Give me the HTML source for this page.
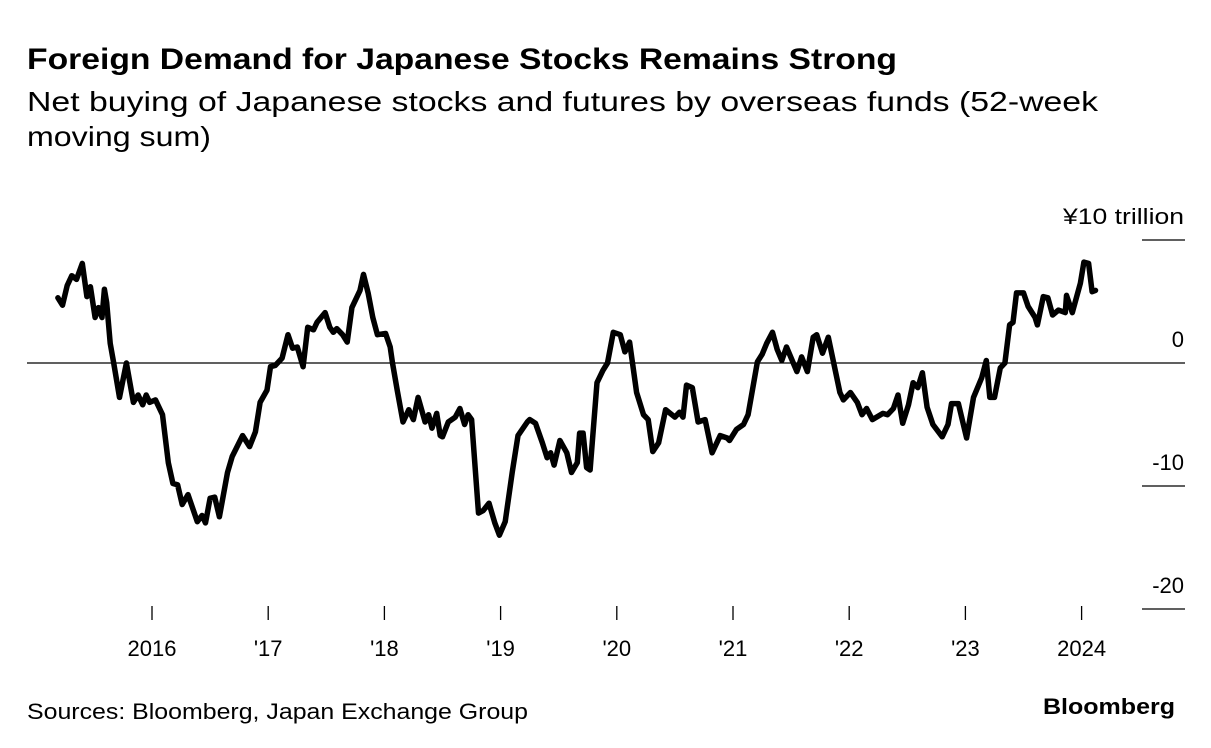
<!DOCTYPE html>
<html><head><meta charset="utf-8"><style>
body{margin:0;background:#fff;font-family:"Liberation Sans",sans-serif;}
svg{display:block}
</style></head><body>
<svg id="chart" width="1211" height="748">
<text x="27" y="69" font-size="30" font-weight="bold" fill="#000" textLength="870" lengthAdjust="spacingAndGlyphs">Foreign Demand for Japanese Stocks Remains Strong</text>
<text x="27" y="111" font-size="28" fill="#000" textLength="1071" lengthAdjust="spacingAndGlyphs">Net buying of Japanese stocks and futures by overseas funds (52-week</text>
<text x="27" y="146" font-size="28" fill="#000" textLength="184" lengthAdjust="spacingAndGlyphs">moving sum)</text>
<g id="axes"></g>
<path id="line" fill="none" stroke="#000" stroke-width="5.5" stroke-linejoin="round" stroke-linecap="round"></path>
<text x="27" y="719" font-size="22" fill="#000" textLength="501" lengthAdjust="spacingAndGlyphs">Sources: Bloomberg, Japan Exchange Group</text>
<text x="1175" y="714" font-size="22" font-weight="bold" text-anchor="end" fill="#000" textLength="132" lengthAdjust="spacingAndGlyphs">Bloomberg</text>
</svg>
<script>
const dates=[2015.19,2015.23,2015.27,2015.31,2015.35,2015.40,2015.44,2015.47,2015.51,2015.54,2015.57,2015.59,2015.61,2015.64,2015.67,2015.72,2015.78,2015.84,2015.88,2015.92,2015.95,2015.98,2016.03,2016.09,2016.14,2016.18,2016.22,2016.26,2016.31,2016.39,2016.43,2016.46,2016.50,2016.54,2016.58,2016.65,2016.69,2016.78,2016.84,2016.89,2016.93,2016.99,2017.02,2017.06,2017.12,2017.17,2017.21,2017.25,2017.30,2017.34,2017.39,2017.42,2017.49,2017.53,2017.56,2017.59,2017.64,2017.68,2017.72,2017.79,2017.82,2017.86,2017.90,2017.94,2018.01,2018.05,2018.07,2018.11,2018.16,2018.21,2018.25,2018.29,2018.35,2018.38,2018.41,2018.45,2018.48,2018.50,2018.55,2018.61,2018.65,2018.69,2018.72,2018.75,2018.81,2018.85,2018.90,2018.95,2018.99,2019.04,2019.10,2019.15,2019.23,2019.25,2019.30,2019.36,2019.40,2019.43,2019.46,2019.51,2019.57,2019.61,2019.66,2019.68,2019.71,2019.74,2019.77,2019.83,2019.88,2019.92,2019.97,2020.03,2020.07,2020.11,2020.17,2020.23,2020.27,2020.31,2020.36,2020.42,2020.50,2020.54,2020.57,2020.60,2020.65,2020.70,2020.76,2020.82,2020.89,2020.95,2020.97,2021.03,2021.09,2021.13,2021.21,2021.25,2021.29,2021.34,2021.38,2021.42,2021.46,2021.55,2021.59,2021.64,2021.69,2021.72,2021.77,2021.82,2021.92,2021.95,2022.01,2022.07,2022.11,2022.15,2022.20,2022.29,2022.33,2022.38,2022.42,2022.46,2022.51,2022.55,2022.59,2022.63,2022.67,2022.72,2022.80,2022.85,2022.88,2022.94,2023.01,2023.07,2023.14,2023.18,2023.21,2023.25,2023.30,2023.34,2023.38,2023.41,2023.44,2023.50,2023.54,2023.60,2023.62,2023.67,2023.71,2023.75,2023.80,2023.86,2023.87,2023.92,2023.99,2024.02,2024.06,2024.09,2024.12];
const values=[5.3,4.7,6.3,7.1,6.8,8.1,5.4,6.2,3.7,4.5,3.7,6.0,4.9,1.6,0,-2.8,0,-3.2,-2.6,-3.4,-2.6,-3.2,-3.0,-4.2,-8.1,-9.8,-9.9,-11.5,-10.7,-12.9,-12.4,-13.0,-11.0,-10.9,-12.5,-8.9,-7.6,-5.9,-6.8,-5.6,-3.2,-2.2,-0.3,-0.2,0.4,2.3,1.2,1.3,-0.3,2.9,2.7,3.3,4.1,2.9,2.5,2.8,2.3,1.7,4.5,5.9,7.2,5.7,3.7,2.3,2.4,1.3,0,-2.2,-4.8,-3.8,-4.6,-2.8,-4.8,-4.2,-5.3,-4.1,-5.9,-6.0,-4.8,-4.4,-3.7,-5.0,-4.2,-4.6,-12.2,-12.0,-11.4,-13.0,-14.0,-12.9,-8.9,-5.9,-4.8,-4.6,-4.9,-6.5,-7.7,-7.3,-8.3,-6.3,-7.3,-8.9,-8.1,-5.7,-5.7,-8.5,-8.7,-1.6,-0.6,0,2.5,2.3,0.9,1.7,-2.4,-4.2,-4.6,-7.2,-6.5,-3.8,-4.4,-4.0,-4.4,-1.8,-2.0,-4.8,-4.6,-7.3,-5.9,-6.1,-6.3,-5.4,-5.0,-4.2,0.1,0.7,1.6,2.5,1.1,0.2,1.3,-0.7,0.5,-0.7,2.1,2.3,0.8,2.1,-2.4,-3.0,-2.4,-3.2,-4.2,-3.7,-4.6,-4.1,-4.2,-3.7,-2.6,-4.9,-3.4,-1.6,-2.0,-0.8,-3.6,-5.0,-6.0,-5.0,-3.3,-3.3,-6.1,-2.8,-1.2,0.2,-2.8,-2.8,-0.4,0,3.1,3.3,5.7,5.7,4.6,3.7,3.1,5.4,5.3,3.9,4.3,4.1,5.5,4.1,6.5,8.2,8.1,5.8,5.9];
const yTicks=[10,0,-10,-20];
const yTickLabels=["¥10 trillion","0","-10","-20"];
const xTicks=[2016,2017,2018,2019,2020,2021,2022,2023,2024];
const xTickLabels=["2016","'17","'18","'19","'20","'21","'22","'23","2024"];

const xs=d=>152+(d-2016)*116.2;
const ys=v=>363-v*12.3;
const NS="http://www.w3.org/2000/svg";
const axes=document.getElementById('axes');
function mk(tag,attrs){const e=document.createElementNS(NS,tag);for(const k in attrs)e.setAttribute(k,attrs[k]);return e;}
yTicks.forEach((t,i)=>{
  const y=ys(t);
  let ln;
  if(t===0){ln=mk('line',{x1:27,x2:1185,y1:y,y2:y,stroke:'#000','stroke-width':1.3});}
  else{ln=mk('line',{x1:1142,x2:1185,y1:y,y2:y,stroke:'#000','stroke-width':1.3});}
  
  
  axes.appendChild(ln);
  const tx=mk('text',{x:1184,y:y-16,'font-size':22,'text-anchor':'end',fill:'#000'});
  if(t===10){tx.setAttribute('textLength',121);tx.setAttribute('lengthAdjust','spacingAndGlyphs');}
  tx.textContent=yTickLabels[i];
  
  
  axes.appendChild(tx);
});
xTicks.forEach((t,i)=>{
  const x=xs(t);
  const ln=mk('line',{x1:x,x2:x,y1:606,y2:620,stroke:'#000','stroke-width':1.3});
  
  
  axes.appendChild(ln);
  const tx=mk('text',{x:x,y:656,'font-size':22,'text-anchor':'middle',fill:'#000'});
  tx.textContent=xTickLabels[i];
  
  
  axes.appendChild(tx);
});
document.getElementById('line').setAttribute('d',dates.map((d,i)=>(i?'L':'M')+xs(d).toFixed(1)+','+ys(values[i]).toFixed(1)).join(''));
</script>
</body></html>
